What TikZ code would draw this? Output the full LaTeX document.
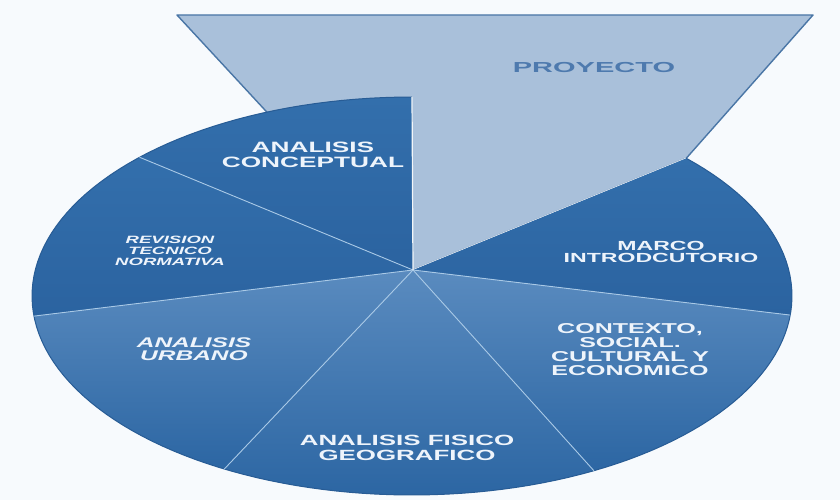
\documentclass[tikz,border=0pt]{standalone}
\usepackage{fontspec}
\newfontfamily\pielabel{Liberation Sans}[FakeStretch=1.75]
\newfontfamily\pietitle{Liberation Sans}[FakeStretch=2.0]
\definecolor{paper}{HTML}{F7FAFD}
\definecolor{proyfill}{HTML}{A9C0DA}
\definecolor{proyline}{HTML}{4A76A6}
\definecolor{proytext}{HTML}{4E7AAE}
\definecolor{darktop}{HTML}{336FAC}
\definecolor{darkbot}{HTML}{2B63A0}
\definecolor{lighttop}{HTML}{5A8BBF}
\definecolor{lightbot}{HTML}{2C66A3}
\definecolor{sepline}{HTML}{A9C9E6}
\definecolor{rimline}{HTML}{285C95}
\definecolor{slicewhite}{HTML}{EEF4FB}

\begin{document}
\begin{tikzpicture}[x=1pt,y=-1pt,
    slicetext/.style={text=slicewhite,align=center,inner sep=0pt},
    sep/.style={draw=sepline,line width=0.9pt},
    rim/.style={draw=rimline,line width=1pt}]
    \fill[paper] (0,0) rectangle (840,500);
    \useasboundingbox (0,0) rectangle (840,500);
    \coordinate (apex) at (413,270);
    % rim points, angles measured on the ellipse
    \foreach \t [count=\i from 0] in {-43.8,5.5,61.4,119.6,174.2,224.2,270}
        \coordinate (r\i) at ({412+380*cos(\t)},{296+199*sin(\t)});
    % the pulled-out slice
    \filldraw[fill=proyfill,draw=proyline,line width=1.4pt,line join=round]
        (177,15) -- (813,15) -- (r0) -- (apex) -- cycle;
    \draw[white,line width=1.2pt] (r0) -- (apex);
    % slices
    \foreach \a/\b/\tc/\bc in {-43.8/5.5/darktop/darkbot,5.5/61.4/lighttop/lightbot,
        61.4/119.6/lighttop/lightbot,119.6/174.2/lighttop/lightbot,
        174.2/224.2/darktop/darkbot,224.2/270/darktop/darkbot}
        \shade[top color=\tc,bottom color=\bc] (apex)
            -- plot[domain=\a:\b,samples=40] ({412+380*cos(\x)},{296+199*sin(\x)}) -- cycle;
    \draw[rim] plot[domain=-43.8:270,samples=150] ({412+380*cos(\x)},{296+199*sin(\x)});
    \foreach \i in {1,...,5}
        \draw[sep] (apex) -- (r\i);
    \draw[white!85!proyfill,line width=1.2pt] (apex) -- (r6);

    \node[font=\pietitle\bfseries\fontsize{14.5}{14.5}\selectfont,text=proytext,inner sep=0pt]
        (proyecto) at (594,68) {PROYECTO};
    \node[slicetext,font=\pielabel\bfseries\fontsize{15}{14.5}\selectfont]
        (concept) at (313,155) {ANALISIS\\CONCEPTUAL};
    \node[slicetext,font=\pielabel\bfseries\itshape\fontsize{10.6}{11.3}\selectfont]
        (revision) at (170,251) {REVISION\\TECNICO\\NORMATIVA};
    \node[slicetext,font=\pielabel\bfseries\itshape\fontsize{14}{13.6}\selectfont]
        (urbano) at (194,349) {ANALISIS\\URBANO};
    \node[slicetext,font=\pielabel\bfseries\fontsize{14.8}{14.2}\selectfont]
        (fisico) at (407,448) {ANALISIS FISICO\\GEOGRAFICO};
    \node[slicetext,font=\pielabel\bfseries\fontsize{14.3}{14}\selectfont]
        (contexto) at (630,350) {CONTEXTO,\\SOCIAL.\\CULTURAL Y\\ECONOMICO};
    \node[slicetext,font=\pielabel\bfseries\fontsize{13.2}{12.8}\selectfont]
        (marco) at (661,252) {MARCO\\INTRODCUTORIO};
\end{tikzpicture}
\end{document}
